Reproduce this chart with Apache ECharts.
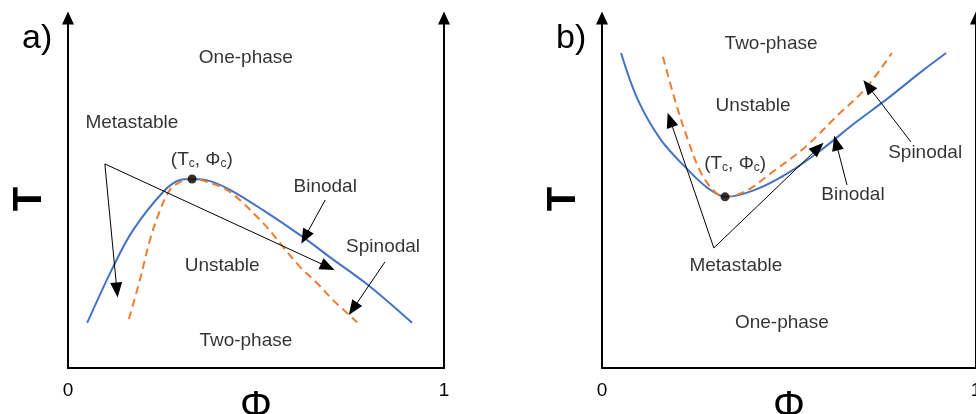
<!DOCTYPE html>
<html>
<head>
<meta charset="utf-8">
<script src="https://cdn.jsdelivr.net/npm/echarts@6/dist/echarts.min.js"></script>
<style>
  html, body { margin: 0; padding: 0; background: #fff; }
  #chart { width: 976px; height: 414px; }
</style>
</head>
<body>
<div id="chart"></div>
<script>
// panel a) : upper critical point
const binodalA = [[0.051, 0.129], [0.120, 0.289], [0.173, 0.394], [0.253, 0.503], [0.298, 0.537], [0.330, 0.54],
  [0.378, 0.534], [0.431, 0.509], [0.519, 0.451], [0.625, 0.374], [0.700, 0.314], [0.798, 0.237], [0.915, 0.129]];
const spinodalA = [[0.162, 0.14], [0.191, 0.251], [0.218, 0.366], [0.245, 0.451], [0.271, 0.509], [0.298, 0.531],
  [0.330, 0.54], [0.378, 0.529], [0.431, 0.503], [0.519, 0.414], [0.572, 0.346], [0.617, 0.289], [0.662, 0.243],
  [0.705, 0.194], [0.769, 0.131]];
const criticalA = [0.330, 0.54];
const textA = [['One-phase', 0.473, 0.886], ['Metastable', 0.170, 0.70], ['Binodal', 0.684, 0.517],
  ['Spinodal', 0.838, 0.346], ['Unstable', 0.410, 0.291], ['Two-phase', 0.473, 0.077]];
const tcA = [0.356, 0.594];
const arrowsA = [[[0.098, 0.583], [0.691, 0.289]], [[0.098, 0.583], [0.130, 0.223]],
  [[0.684, 0.48], [0.630, 0.374]], [[0.843, 0.303], [0.758, 0.169]]];

// panel b) : lower critical point
const binodalB = [[0.051, 0.90], [0.096, 0.766], [0.158, 0.651], [0.230, 0.566], [0.283, 0.514], [0.332, 0.489],
  [0.409, 0.509], [0.497, 0.557], [0.586, 0.623], [0.676, 0.70], [0.765, 0.771], [0.853, 0.846], [0.920, 0.90]];
const spinodalB = [[0.163, 0.889], [0.195, 0.766], [0.230, 0.651], [0.265, 0.557], [0.302, 0.503], [0.329, 0.489],
  [0.390, 0.509], [0.452, 0.557], [0.543, 0.631], [0.631, 0.723], [0.706, 0.80], [0.775, 0.90]];
const criticalB = [0.329, 0.489];
const textB = [['Two-phase', 0.452, 0.926], ['Unstable', 0.404, 0.749], ['Spinodal', 0.864, 0.614],
  ['Binodal', 0.671, 0.494], ['Metastable', 0.358, 0.291], ['One-phase', 0.481, 0.129]];
const tcB = [0.356, 0.583];
const arrowsB = [[[0.299, 0.343], [0.182, 0.709]], [[0.299, 0.343], [0.578, 0.629]],
  [[0.826, 0.646], [0.711, 0.806]], [[0.655, 0.523], [0.626, 0.643]]];

const FONT = 'Liberation Sans';
const axisLineStyle = { color: '#000', width: 2 };

function xAx(i) {
  return {
    type: 'value', gridIndex: i, min: 0, max: 1, interval: 1,
    axisLine: { onZero: false, lineStyle: axisLineStyle },
    axisTick: { show: false }, splitLine: { show: false },
    axisLabel: { fontSize: 19, color: '#000', margin: 13, fontFamily: FONT },
    name: 'Φ', nameLocation: 'middle', nameGap: 20, nameMoveOverlap: false,
    nameTextStyle: { fontSize: 40, color: '#000', fontFamily: FONT }
  };
}
function yAx(i, pos) {
  const ax = {
    type: 'value', gridIndex: i, min: 0, max: 1, position: pos,
    axisLine: { onZero: false, lineStyle: axisLineStyle, symbol: ['none', 'triangle'], symbolSize: [12, 13] },
    axisTick: { show: false }, splitLine: { show: false }, axisLabel: { show: false }
  };
  if (pos === 'left') {
    ax.name = 'T';
    ax.nameLocation = 'middle';
    ax.nameGap = 18;
    ax.nameRotate = 90;
    ax.nameMoveOverlap = false;
    ax.nameTextStyle = { fontSize: 40, color: '#000', fontFamily: FONT, fontWeight: 'bold', padding: [0, 12, 0, 0] };
  }
  return ax;
}

function curve(data, i, color, dashed) {
  return {
    type: 'line', xAxisIndex: i, yAxisIndex: i * 2, data: data, smooth: 0.35,
    showSymbol: false, silent: true,
    lineStyle: { color: color, width: 2, type: dashed ? [8, 5] : 'solid' }
  };
}

function labels(list, tc, crit, arrows, i) {
  const data = list.map(t => ({ value: [t[1], t[2]], name: t[0] }));
  data.push({ value: tc, name: 'tc' });
  return {
    type: 'scatter', xAxisIndex: i, yAxisIndex: i * 2, symbolSize: 0, silent: true,
    data: data,
    label: {
      show: true, position: 'inside', color: '#000', fontSize: 19, fontFamily: FONT,
      formatter: p => p.name === 'tc' ? '{n|(T}{s|c}{n|, Φ}{s|c}{n|)}' : p.name,
      rich: {
        n: { fontSize: 19, fontFamily: FONT, color: '#000', verticalAlign: 'bottom' },
        s: { fontSize: 12, fontFamily: FONT, color: '#000', verticalAlign: 'bottom', lineHeight: 6 }
      }
    },
    markLine: {
      silent: true, animation: false,
      symbol: ['none', 'triangle'], symbolSize: [12, 15],
      label: { show: false },
      lineStyle: { color: '#000', width: 1, type: 'solid' },
      data: arrows.map(a => [{ coord: a[0] }, { coord: a[1] }])
    }
  };
}

function dot(p, i) {
  return {
    type: 'scatter', xAxisIndex: i, yAxisIndex: i * 2, data: [p], symbolSize: 9, silent: true,
    itemStyle: { color: '#000' }, z: 5
  };
}

const chart = echarts.init(document.getElementById('chart'));
chart.setOption({
  animation: false,
  backgroundColor: '#fff',
  grid: [
    { left: 68, top: 18, width: 376, height: 350, containLabel: false, outerBoundsMode: 'none' },
    { left: 602, top: 18, width: 374, height: 350, containLabel: false, outerBoundsMode: 'none' }
  ],
  xAxis: [xAx(0), xAx(1)],
  yAxis: [yAx(0, 'left'), yAx(0, 'right'), yAx(1, 'left'), yAx(1, 'right')],
  graphic: [
    { type: 'text', left: 22, top: 22, style: { text: 'a)', fontSize: 34, fill: '#000', fontFamily: FONT } },
    { type: 'text', left: 556, top: 22, style: { text: 'b)', fontSize: 34, fill: '#000', fontFamily: FONT } }
  ],
  series: [
    curve(binodalA, 0, '#4472C4', false),
    curve(spinodalA, 0, '#ED7D31', true),
    labels(textA, tcA, criticalA, arrowsA, 0),
    dot(criticalA, 0),
    curve(binodalB, 1, '#4472C4', false),
    curve(spinodalB, 1, '#ED7D31', true),
    labels(textB, tcB, criticalB, arrowsB, 1),
    dot(criticalB, 1)
  ]
});
</script>
</body>
</html>
